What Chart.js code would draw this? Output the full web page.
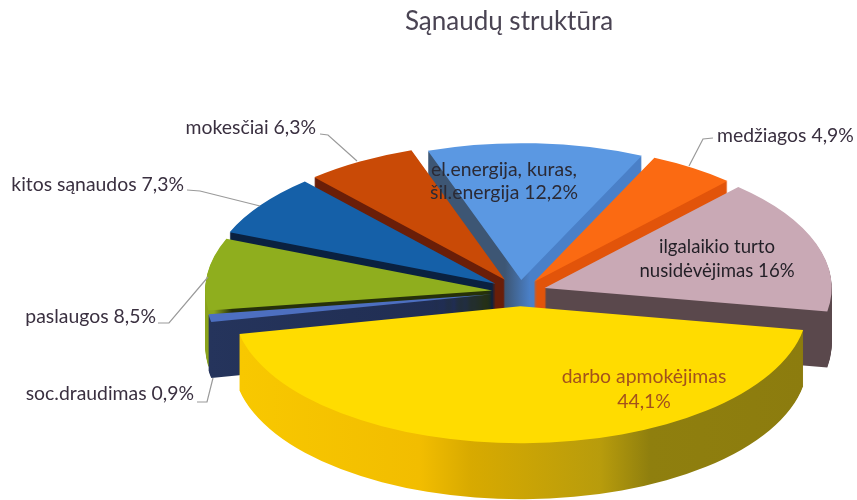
<!DOCTYPE html>
<html>
<head>
<meta charset="utf-8">
<style>html,body{margin:0;padding:0;background:#fff}canvas{display:block}</style>
<script src="https://cdn.jsdelivr.net/npm/chart.js@4"></script>
</head>
<body>
<canvas id="c" width="857" height="500"></canvas>
<script>
const titleText = "Sąnaudų struktūra";
const categories = ["el.energija, kuras, šil.energija","medžiagos","ilgalaikio turto nusidėvėjimas","darbo apmokėjimas","soc.draudimas","paslaugos","kitos sąnaudos","mokesčiai"];
const values = [12.2,4.9,16,44.1,0.9,8.5,7.3,6.3];

const faceColors = ["#5b98e2","#fb6a12","#c9a9b5","#ffdc00","#4d6fc0","#8fae1e","#1560a8","#c94a06"];
const wallColors = [
  [[424,"#3d5674"],[505,"#3d5674"],[530,"#4a80c8"],[640,"#4a80c8"]],
  [[530,"#e2540a"],[725,"#e2540a"]],
  [[545,"#5a484c"],[830,"#5a484c"]],
  [[240,"#f8c800"],[420,"#f2bd00"],[470,"#d8aa00"],[600,"#b89c0c"],[650,"#8f7f0e"],[805,"#8c7c0e"]],
  [[208,"#25345c"],[495,"#1f2c50"]],
  [[205,"#8aa31c"],[214,"#8aa31c"],[232,"#26300a"],[495,"#26300a"]],
  [[230,"#0a2140"],[495,"#0a2140"]],
  [[310,"#6a1e08"],[505,"#6a1e08"]]
];
const explode = [25,25,26,30,28,28,30,30];
const paintOrder = [0,1,7,2,6,5,4,3];
const pie = {cx:520, cy:292, rx:287, squash:0.477, depth:56, rotation:-19};

const slot = (i) => String(values[i]).replace(".",",")+"%";
const labelLayout = [
  {lines:["el.energija, kuras,","šil.energija "+slot(0)], x:504, y:170, gap:23, align:"center", color:"#2b2a35", size:19.4},
  {lines:[categories[1]+" "+slot(1)], x:717, y:136, gap:0, align:"left", color:"#3a3040", size:19.4},
  {lines:["ilgalaikio turto","nusidėvėjimas "+slot(2)], x:717, y:247, gap:24, align:"center", color:"#221f26", size:18.6},
  {lines:[categories[3],slot(3)], x:644, y:377, gap:25, align:"center", color:"#a3521c", size:19.4},
  {lines:[categories[4]+" "+slot(4)], x:194, y:394, gap:0, align:"right", color:"#3a3040", size:19.4},
  {lines:[categories[5]+" "+slot(5)], x:156, y:317, gap:0, align:"right", color:"#3a3040", size:19.4},
  {lines:[categories[6]+" "+slot(6)], x:184, y:185, gap:0, align:"right", color:"#3a3040", size:19.4},
  {lines:[categories[7]+" "+slot(7)], x:316, y:128, gap:0, align:"right", color:"#3a3040", size:19.4}
];
const leaders = [
  [[713,138],[703,139],[689,166]],
  [[197,402],[207,402],[213,378]],
  [[158,323],[169,323],[208,277]],
  [[187,190],[200,191],[260,206]],
  [[320,134],[328,135],[357,161]]
];

const pie3d = {
  id:"pie3d",
  beforeDatasetsDraw(chart){
    const ctx = chart.ctx;
    const arcs = chart.getDatasetMeta(0).data;
    const place = (el,i,dy) => {
      const mid = (el.startAngle+el.endAngle)/2;
      const ox = Math.cos(mid)*explode[i], oy = Math.sin(mid)*explode[i]*pie.squash;
      ctx.translate(pie.cx+ox, pie.cy+oy+dy);
      ctx.scale(1,pie.squash);
      ctx.translate(-el.x,-el.y);
      return pie.cx+ox-el.x;
    };
    const paint = (el,i,dy,fill) => {
      const base = el.options;
      ctx.save();
      const shift = place(el,i,dy);
      let style = fill;
      if (Array.isArray(fill)) {
        const g = ctx.createLinearGradient(fill[0][0]-shift,0,fill[fill.length-1][0]-shift,0);
        const a = fill[0][0], b = fill[fill.length-1][0];
        fill.forEach(s => g.addColorStop((s[0]-a)/(b-a), s[1]));
        style = g;
      }
      el.options = Object.assign({}, base, {backgroundColor:style, borderWidth:0});
      el.draw(ctx);
      el.options = base;
      ctx.restore();
    };
    paintOrder.forEach(i => {
      const el = arcs[i];
      for (let k = pie.depth; k >= 1; k--) paint(el,i,k,wallColors[i]);
      paint(el,i,0,faceColors[i]);
    });
    return false;
  },
  afterDraw(chart){
    const ctx = chart.ctx;
    ctx.save();
    ctx.strokeStyle = "#9a9a9a";
    ctx.lineWidth = 1.2;
    leaders.forEach(p => {
      ctx.beginPath();
      p.forEach((q,j) => j ? ctx.lineTo(q[0],q[1]) : ctx.moveTo(q[0],q[1]));
      ctx.stroke();
    });
    ctx.textBaseline = "middle";
    labelLayout.forEach(l => {
      ctx.font = l.size+"px Lato";
      ctx.fillStyle = l.color;
      ctx.textAlign = l.align;
      l.lines.forEach((t,j) => ctx.fillText(t,l.x,l.y+j*l.gap));
    });
    ctx.restore();
  }
};

new Chart(document.getElementById("c"),{
  type:"pie",
  data:{labels:categories,datasets:[{data:values,backgroundColor:faceColors,borderWidth:0,radius:pie.rx}]},
  options:{
    responsive:false,
    animation:false,
    rotation:pie.rotation,
    layout:{padding:{left:161}},
    plugins:{
      legend:{display:false},
      tooltip:{enabled:false},
      title:{display:true,text:titleText,color:"#4a4453",font:{family:"Lato",size:26,weight:"normal"},padding:{top:6,bottom:0}}
    }
  },
  plugins:[pie3d]
});
</script>
</body>
</html>
